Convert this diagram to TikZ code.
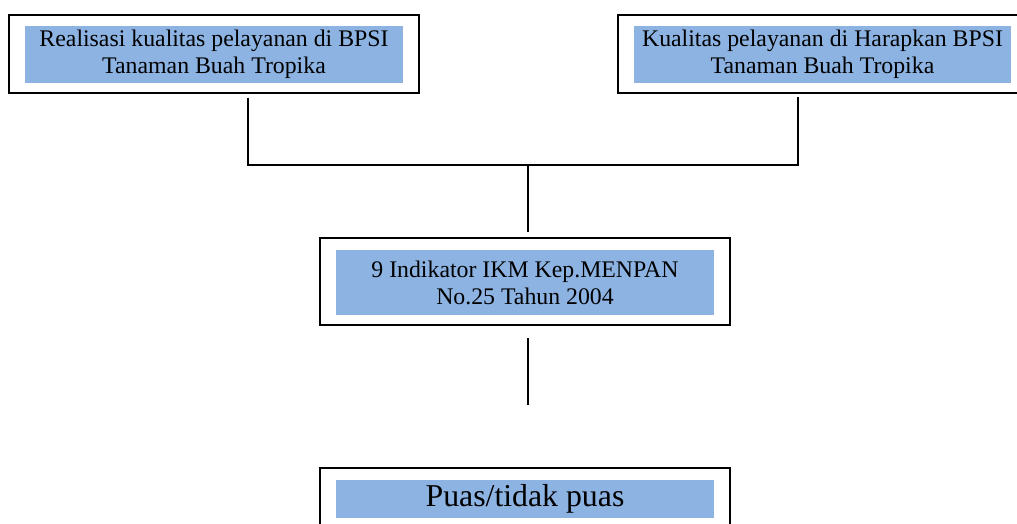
\documentclass[tikz,border=0pt]{standalone}
\usepackage{fontspec}
\setmainfont{Liberation Serif}
\usepackage{tikz}

\definecolor{bandblue}{HTML}{8DB3E2}

\tikzset{
    frame/.style={draw, line width=2pt, minimum width=410pt, minimum height=78pt, inner sep=0pt},
    band/.style={fill=bandblue, minimum width=378pt, minimum height=57pt, inner sep=0pt,
        align=center, font=\fontsize{23.8}{27}\selectfont},
    link/.style={black, line width=1.8pt}
}

\begin{document}
\begin{tikzpicture}[x=1pt, y=1pt]
    \useasboundingbox (0, 0) rectangle (1017, -523);
    \begin{scope}
        \clip (0, 0) rectangle (1017, -523);
        \node[frame] (real) at (214, -53.5) {};
        \node[band] (realText) at (214, -54.5)
            {Realisasi kualitas pelayanan di BPSI\\Tanaman Buah Tropika};
        \node[frame] (harap) at (822.5, -54) {};
        \node[band, minimum width=377pt] (harapText) at (822.5, -54.5)
            {Kualitas pelayanan di Harapkan BPSI\\Tanaman Buah Tropika};
        \node[frame, minimum height=87pt] (ikm) at (525, -281.5) {};
        \node[band, minimum height=65pt] (ikmText) at (525, -282.5)
            {9 Indikator IKM Kep.MENPAN\\No.25 Tahun 2004};
        \node[frame, minimum height=62pt] (puas) at (525, -499) {};
        \node[band, minimum height=38pt, font=\fontsize{31.8}{36}\selectfont] (puasText) at (525, -499)
            {Puas/tidak puas};
    \end{scope}
    \coordinate (join) at (528, -165);
    \coordinate (loose) at (528, -405);
    \draw[link]
        ([xshift=34pt, yshift=-4pt]real.south) |- (join);
    \draw[link]
        ([xshift=-24.5pt, yshift=-3pt]harap.south) |- (join);
    \draw[link]
        (join) -- ([yshift=5pt]join |- ikm.north);
    \draw[link]
        ([yshift=-12pt]loose |- ikm.south) -- (loose);
\end{tikzpicture}
\end{document}
